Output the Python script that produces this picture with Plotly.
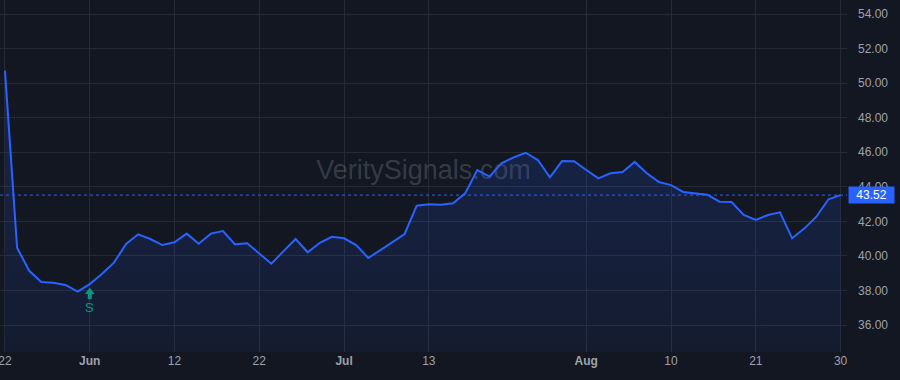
import plotly.graph_objects as go

# ---- data ----
prices = [50.72, 40.48, 39.14, 38.49, 38.45, 38.32, 37.93, 38.37, 38.95, 39.61,
          40.69, 41.25, 40.98, 40.63, 40.79, 41.29, 40.71, 41.29, 41.44, 40.67,
          40.73, 40.15, 39.55, 40.28, 40.98, 40.21, 40.76, 41.11, 41.02, 40.63,
          39.88, 40.34, 40.80, 41.27, 42.91, 42.99, 42.96, 43.05, 43.62, 44.97,
          44.59, 45.36, 45.70, 45.97, 45.55, 44.55, 45.49, 45.48, 44.97, 44.49,
          44.78, 44.86, 45.44, 44.78, 44.28, 44.10, 43.70, 43.61, 43.54, 43.14,
          43.12, 42.37, 42.08, 42.37, 42.52, 41.02, 41.58, 42.27, 43.28, 43.52]
bar_index = list(range(len(prices)))
tick_positions = [0, 7, 14, 21, 28, 35, 48, 55, 62, 69]
tick_labels = ["22", "<b>Jun</b>", "12", "22", "<b>Jul</b>", "13", "<b>Aug</b>", "10", "21", "30"]
y_ticks = [36, 38, 40, 42, 44, 46, 48, 50, 52, 54]
signal_index = 7
signal_label = "S"
last_price = prices[-1]
watermark = "VeritySignals.com"

# ---- style ----
BG = "#131722"
GRID = "#262a35"
TEXT = "#9ea1aa"
BLUE = "#2962ff"
GREEN = "#089981"
FONT = "Arial, Liberation Sans, sans-serif"

x_range = [-0.41, 69.53]
y_range = [34.44, 54.81]
PLOT_H = 352
u_per_px = (y_range[1] - y_range[0]) / PLOT_H

fig = go.Figure()

# watermark (drawn under the line)
fig.add_trace(go.Scatter(
    x=[(x_range[0] + x_range[1]) / 2], y=[y_range[0] + (y_range[1] - y_range[0]) * 0.511],
    mode="text", text=[watermark], textposition="middle center",
    textfont=dict(family=FONT, size=27, color="rgba(178,181,190,0.24)"),
    hoverinfo="skip", showlegend=False))

# baseline for fill
fig.add_trace(go.Scatter(
    x=bar_index, y=[y_range[0] - 1] * len(prices), mode="lines",
    line=dict(width=0, color="rgba(0,0,0,0)"), hoverinfo="skip", showlegend=False))

fig.add_trace(go.Scatter(
    x=bar_index, y=prices, mode="lines",
    line=dict(color=BLUE, width=2),
    fill="tonexty",
    fillgradient=dict(type="vertical",
                      colorscale=[[0, "rgba(41,98,255,0.06)"], [1, "rgba(41,98,255,0.20)"]],
                      start=y_range[0], stop=max(prices)),
    showlegend=False))

# signal arrow: head (triangle) + shaft
sv = prices[signal_index]
fig.add_trace(go.Scatter(
    x=[signal_index], y=[sv - 7.9 * u_per_px], mode="markers",
    marker=dict(symbol="triangle-up", size=8.5, color=GREEN, line=dict(width=0)),
    hoverinfo="skip", showlegend=False))
fig.add_trace(go.Scatter(
    x=[signal_index], y=[sv - 11.5 * u_per_px], mode="markers",
    marker=dict(symbol="line-ns", size=5, color=GREEN, line=dict(width=4, color=GREEN)),
    hoverinfo="skip", showlegend=False))
fig.add_annotation(x=signal_index, y=sv, xref="x", yref="y", text=signal_label,
                   showarrow=False, yshift=-23, font=dict(family=FONT, size=13, color=GREEN))

# last price dotted line
fig.add_shape(type="line", xref="paper", x0=0, x1=1, yref="y", y0=last_price, y1=last_price,
              line=dict(color=BLUE, width=1, dash="dot"))

# last price label
fig.add_annotation(xref="paper", x=1, xanchor="left", xshift=1, yref="y", y=last_price,
                   text=f"{last_price:.2f}", showarrow=False,
                   bgcolor=BLUE, font=dict(family=FONT, size=12, color="white"),
                   width=42, height=13, borderpad=1.5, align="center")

fig.update_layout(
    width=900, height=380,
    margin=dict(l=0, r=53, t=0, b=28, autoexpand=False),
    paper_bgcolor=BG, plot_bgcolor=BG,
    font=dict(family=FONT, size=12, color=TEXT),
    xaxis=dict(range=x_range, tickmode="array", tickvals=tick_positions, ticktext=tick_labels,
               showgrid=True, gridcolor=GRID, gridwidth=1, zeroline=False, showline=False,
               ticks="", ticklabeloverflow="allow", automargin=False,
               tickfont=dict(size=12, color=TEXT)),
    yaxis=dict(range=y_range, side="right", tickmode="array", tickvals=y_ticks,
               ticktext=[f"{v:.2f}" for v in y_ticks], automargin=False,
               showgrid=True, gridcolor=GRID, gridwidth=1, zeroline=False, showline=False,
               ticks="", ticklabelstandoff=10, tickfont=dict(size=12, color=TEXT)),
)

fig.write_html("out.html")
